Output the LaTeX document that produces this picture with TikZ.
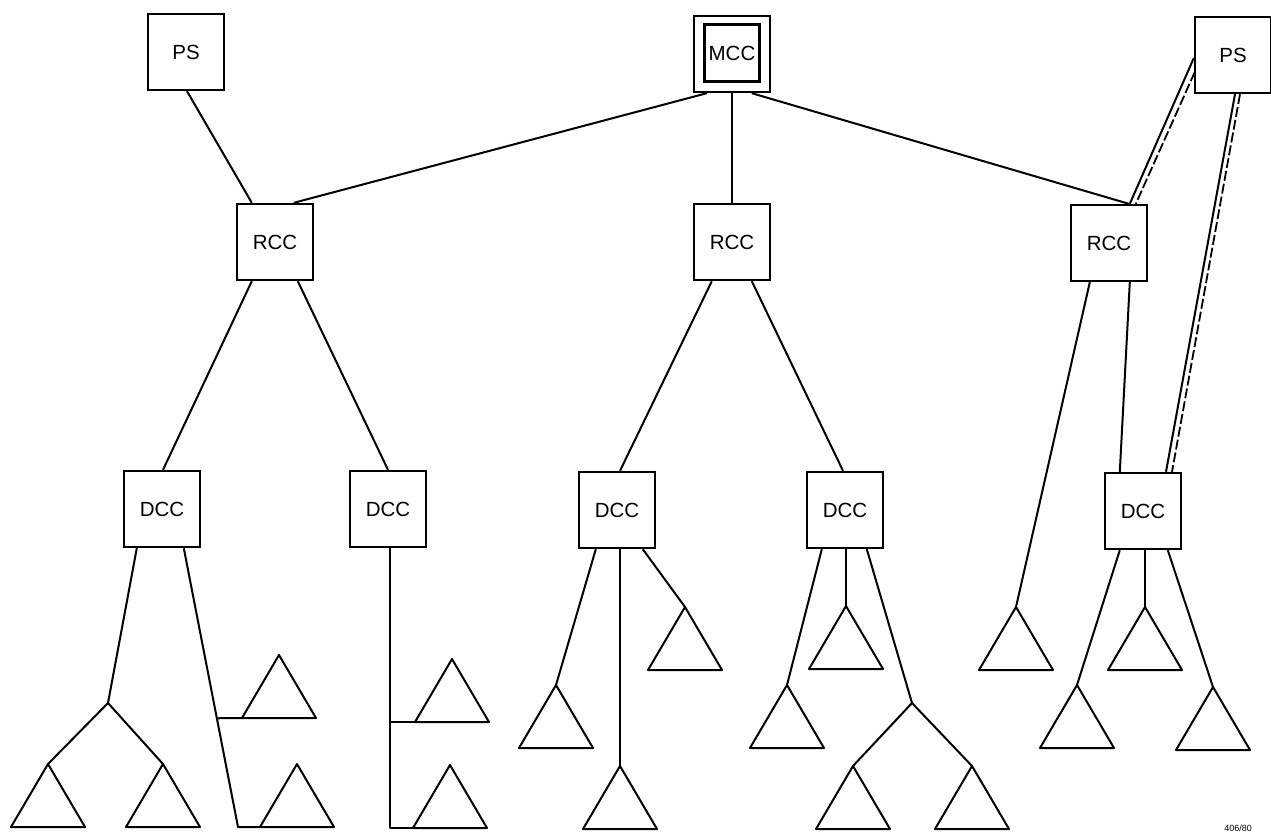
\documentclass[tikz,border=0pt]{standalone}
\usepackage{fontspec}
\setmainfont{Liberation Sans}
\usetikzlibrary{calc}
\tikzset{
  box/.style={draw, line width=2.4pt, minimum width=76pt, minimum height=76pt, inner sep=0pt, font=\fontsize{20.5}{22}\selectfont},
  innerbox/.style={draw, line width=2.4pt, minimum width=55pt, minimum height=57pt, inner sep=0pt, font=\fontsize{20.5}{22}\selectfont},
  ln/.style={line width=2pt, line join=round},
  dln/.style={line width=1.8pt, dash pattern=on 10pt off 3pt},
}
\newcommand\tri[1]{\draw[ln] (#1) -- ++(-37,63) -- ++(74,0) -- cycle;}
\begin{document}
\begin{tikzpicture}[x=1pt,y=-1pt]
\useasboundingbox (0,0) rectangle (1271,833);
% boxes
\node[box] (ps1) at (186,52) {PS};
\node[box] (mccframe) at (732,54) {};
\node[innerbox] (mcc) at (732,53) {MCC};
\node[box] (ps2) at (1233,55) {PS};
\node[box] (rcc1) at (275,242) {RCC};
\node[box] (rcc2) at (732,242) {RCC};
\node[box] (rcc3) at (1109,243) {RCC};
\node[box] (dcc1) at (162,509) {DCC};
\node[box] (dcc2) at (388,509) {DCC};
\node[box] (dcc3) at (617,510) {DCC};
\node[box] (dcc4) at (845,510) {DCC};
\node[box] (dcc5) at (1143,511) {DCC};
% triangle apexes
\coordinate (t1) at (48,764);
\coordinate (t2) at (163,764);
\coordinate (t3) at (297,764);
\coordinate (t4) at (279,655);
\coordinate (t5) at (452,659);
\coordinate (t6) at (450,765);
\coordinate (t7) at (556,685);
\coordinate (t8) at (620,766);
\coordinate (t9) at (685,607);
\coordinate (t10) at (787,685);
\coordinate (t11) at (846,606);
\coordinate (t12) at (853,766);
\coordinate (t13) at (972,766);
\coordinate (t14) at (1016,607);
\coordinate (t15) at (1077,685);
\coordinate (t16) at (1145,607);
\coordinate (t17) at (1213,687);
\foreach \t in {t1,t2,t3,t4,t5,t6,t7,t8,t9,t10,t11,t12,t13,t14,t15,t16,t17}{\tri{\t}}
% branch points
\coordinate (b1) at (108,703);
\coordinate (b2) at (912,703);
\coordinate (c1) at (238,827);
\coordinate (c2) at (390,828);
% top level
\draw[ln] ($(ps1.south)+(1,0)$) -- ($(rcc1.north west)+(16,0)$);
\draw[ln] ($(mccframe.south west)+(14,0)$) -- ($(rcc1.north west)+(58,0)$);
\draw[ln] (mccframe.south) -- (rcc2.north);
\draw[ln] ($(mccframe.south west)+(59,0)$) -- ($(rcc3.north west)+(59,0)$);
\draw[ln] ($(ps2.west)+(0,3)$) -- ($(rcc3.north west)+(60,0)$);
\draw[dln] ($(ps2.west)+(1,17)$) -- ($(rcc3.north west)+(66,0)$);
\draw[ln] ($(ps2.south)+(2,0)$) -- ($(dcc5.north)+(23,0)$);
\draw[dln] ($(ps2.south)+(7,0)$) -- ($(dcc5.north)+(29,0)$);
% RCC to DCC
\draw[ln] ($(rcc1.south west)+(16,0)$) -- ($(dcc1.north)+(1,0)$);
\draw[ln] ($(rcc1.south west)+(62,0)$) -- ($(dcc2.north)+(0,0)$);
\draw[ln] ($(rcc2.south west)+(19,0)$) -- ($(dcc3.north)+(3,0)$);
\draw[ln] ($(rcc2.south west)+(59,0)$) -- ($(dcc4.north)+(-2,0)$);
\draw[ln] ($(rcc3.south west)+(60,0)$) -- ($(dcc5.north west)+(16,0)$);
\draw[ln] ($(rcc3.south west)+(20,0)$) -- (t14);
% DCC1
\draw[ln] ($(dcc1.south west)+(14,0)$) -- (b1);
\draw[ln] (t1) -- (b1) -- (t2);
\draw[ln] ($(dcc1.south west)+(61,0)$) coordinate (d1r) -- (c1) -- ($(t3)+(-37,63)$);
\draw[ln] ($(d1r)!0.61!(c1)$) -- ($(t4)+(-37,63)$);
% DCC2
\draw[ln] ($(dcc2.south)+(2,0)$) -- (c2) -- ($(t6)+(-37,63)$);
\draw[ln] (390,722) -- ($(t5)+(-37,63)$);
% DCC3
\draw[ln] ($(dcc3.south west)+(18,0)$) -- (t7);
\draw[ln] ($(dcc3.south)+(3,0)$) -- (t8);
\draw[ln] ($(dcc3.south west)+(65,0)$) -- (t9);
% DCC4
\draw[ln] ($(dcc4.south west)+(16,0)$) -- (t10);
\draw[ln] ($(dcc4.south)+(1,0)$) -- (t11);
\draw[ln] ($(dcc4.south west)+(61,0)$) -- (b2);
\draw[ln] (t12) -- (b2) -- (t13);
% DCC5
\draw[ln] ($(dcc5.south west)+(16,0)$) -- (t15);
\draw[ln] ($(dcc5.south)+(2,0)$) -- (t16);
\draw[ln] ($(dcc5.south west)+(64,0)$) -- (t17);
% figure number
\node[font=\fontsize{9}{10}\selectfont, anchor=south, inner sep=1pt] (fig) at (1238,833) {406/80};
\end{tikzpicture}
\end{document}
